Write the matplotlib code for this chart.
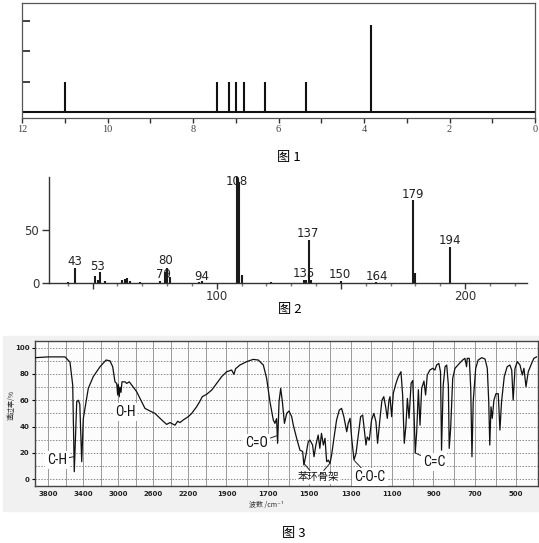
import numpy as np
import matplotlib
matplotlib.use('Agg')
import matplotlib.pyplot as plt
from matplotlib.ticker import MultipleLocator, FixedLocator, FixedFormatter
from matplotlib.patches import Rectangle
from matplotlib import font_manager as fm

# ---------------- data ----------------
# Figure 1: 1H NMR
nmr_shift = [11.0, 7.43, 7.16, 7.00, 6.81, 6.31, 5.35, 3.83]
nmr_height = [1.0, 1.0, 1.0, 1.0, 1.0, 0.97, 0.97, 2.85]
nmr_xticks = [12, 10, 8, 6, 4, 2, 0]

# Figure 2: mass spectrum
ms_mz = [40, 43, 51, 52, 53, 55, 62, 63, 64, 65, 69, 77, 79, 80, 81, 93, 94,
         108, 109, 110, 122, 135, 136, 137, 138, 150, 164, 179, 180, 194]
ms_int = [1, 14.4, 7, 3, 10.3, 2, 3, 4, 5, 2, 1, 2, 10.6, 14.4, 6, 1, 1.5,
          100, 95.3, 7.5, 1, 3, 3, 40.7, 3, 1.5, 1, 78, 9.7, 33.9]
ms_label_mz = [43, 53, 79, 80, 94, 108, 135, 137, 150, 164, 179, 194]
ms_xticks = [50, 100, 150, 200]
ms_xticklabels = ['', '100', '', '200']
ms_yticks = [0, 50]

# Figure 3: IR spectrum
ir_wn = [3952, 3800, 3700, 3609, 3552, 3521, 3503, 3475, 3457, 3440, 3418, 3400,
         3343, 3286, 3209, 3140, 3095, 3064, 3038, 3018, 3007, 3000, 2989, 2981,
         2969, 2958, 2923, 2904, 2874, 2847, 2790, 2752, 2695, 2638, 2581, 2504,
         2447, 2409, 2352, 2321, 2295, 2257, 2200, 2162, 2105, 2067, 2040, 1996,
         1971, 1947, 1923, 1899, 1875, 1864, 1856, 1835, 1802, 1771, 1746, 1722,
         1706, 1690, 1674, 1666, 1658, 1653, 1646, 1638, 1630, 1620, 1609, 1598,
         1585, 1577, 1561, 1545, 1532, 1526, 1516, 1505, 1497, 1484, 1477, 1468,
         1457, 1449, 1441, 1432, 1424, 1416, 1408, 1400, 1392, 1381, 1368, 1355,
         1344, 1333, 1319, 1312, 1303, 1295, 1284, 1274, 1263, 1252, 1242, 1231,
         1226, 1220, 1210, 1199, 1188, 1178, 1170, 1159, 1149, 1140, 1131, 1123,
         1115, 1110, 1102, 1094, 1081, 1070, 1057, 1049, 1041, 1033, 1026, 1018,
         1008, 1000, 994, 988, 981, 973, 965, 957, 946, 938, 930, 917, 904, 893,
         885, 874, 866, 861, 853, 844, 836, 828, 824, 817, 807, 796, 775, 759,
         748, 740, 737, 727, 720, 714, 708, 696, 684, 667, 651, 640, 633, 628,
         622, 616, 608, 598, 587, 579, 571, 558, 544, 531, 522, 515, 506, 495,
         482, 471, 463, 453, 442, 426, 415, 402]
ir_t = [92.4, 93, 93, 93, 89, 71.6, 5.6, 59, 60, 57, 13.2, 46,
        69, 78, 85.5, 90.6, 90, 85.5, 74, 72.8, 64, 72, 62.7, 70,
        66, 74, 74, 72.8, 74, 71.6, 66.5, 61.4, 53.8, 51.8, 50, 45,
        41.6, 43, 41, 44, 43, 45, 47.5, 49.9, 55, 59.2, 62.7, 64.5,
        67.8, 72.9, 78, 81.7, 83, 79.7, 84, 86.8, 89.4, 91.1, 90.6, 86.8,
        76.7, 58.9, 45, 42.4, 46, 27.2, 59, 69, 59, 42.4, 50, 51.8,
        47.5, 41, 31, 22, 21, 10.7, 18.5, 28.4, 29.7, 25.9, 17, 25.9,
        33.5, 23.4, 34.8, 25.9, 31, 13.2, 14.4, 11.9, 18.3, 31, 45, 52.5,
        53.8, 47.5, 36, 42.4, 46.2, 31, 14.5, 19.6, 33.5, 47.5, 48.7, 33.5,
        25.9, 32, 29.7, 45, 50, 43.7, 27.2, 45, 60, 62.7, 55, 46.2,
        60, 62.7, 47.5, 65.3, 72.9, 78, 81.7, 64, 27.2, 41, 61.4, 46.2,
        72.9, 75, 50, 20, 36, 68, 41, 69, 74.6, 64, 79.2, 83, 84.3, 83,
        86.8, 88, 81.7, 22, 71.3, 85.5, 86.8, 71.3, 23.3, 38.6, 76.7, 84.3, 88, 90.6,
        91.9, 85.5, 91.9, 91.9, 69, 17, 59, 84.3, 90.6, 92.4, 91.4, 84.3, 59, 25.9,
        55, 46.2, 60, 65, 65, 37.3, 59, 78, 85.5, 86.8, 83, 60, 84.3, 89.4,
        86.8, 79.2, 84.3, 70.3, 81.7, 88, 91.9, 93]
ir_xticks = [3800, 3400, 3000, 2600, 2200, 1900, 1700, 1500, 1300, 1100, 900, 700, 500]
ir_yticks = [0, 20, 40, 60, 80, 100]
ir_groups = ['C-H', 'O-H', 'C=O', '苯环骨架', 'C-O-C', 'C=C']

# ---------------- layout helpers ----------------
W, H = 539, 543
fig = plt.figure(figsize=(W / 100, H / 100), dpi=100)
fig.patch.set_facecolor('white')


def box(l, t, r, b):
    return [l / W, 1 - b / H, (r - l) / W, (b - t) / H]


CJK = ['Noto Sans CJK SC', 'DejaVu Sans']
names = {f.name for f in fm.fontManager.ttflist}
cond = next((n for n in ['Liberation Sans Narrow', 'Roboto Condensed', 'DejaVu Sans'] if n in names),
            'DejaVu Sans')

# ---------------- Figure 1: NMR ----------------
ax1 = fig.add_axes(box(22, 3, 535, 118))
unit = 30.5
ax1.set_xlim(12, 0)
ax1.set_ylim(-6 / unit, (118 - 3 - 6) / unit)
ax1.hlines(0, 12, 0, color='#111', lw=1.5)
ax1.vlines(nmr_shift, 0, nmr_height, color='#111', lw=1.5)
ax1.xaxis.set_major_locator(FixedLocator(nmr_xticks))
ax1.xaxis.set_minor_locator(MultipleLocator(1))
ax1.tick_params(axis='x', which='both', direction='out', length=3.5, width=1,
                color='#333', pad=1.5, labelsize=7.5, labelcolor='#444')
for lab in ax1.get_xticklabels():
    lab.set_family('Liberation Serif')
ax1.set_yticks([1, 2, 3])
ax1.tick_params(axis='y', direction='in', length=5.5, width=1.2, color='#222', labelleft=False)
for s in ax1.spines.values():
    s.set_color('#555')
    s.set_linewidth(0.9)
fig.text(289 / W, 1 - 157 / H, '图 1', ha='center', va='center', fontsize=9.5, family=CJK)

# ---------------- Figure 2: MS ----------------
ax2 = fig.add_axes(box(49, 176.7, 527, 283))
ax2.set_xlim(100 + (49 - 216.7) / 2.483, 100 + (527 - 216.7) / 2.483)
ax2.set_ylim(0, 100)
ax2.vlines(ms_mz, 0, ms_int, color='#1a1a1a', lw=1.5)
for s in ['top', 'right']:
    ax2.spines[s].set_visible(False)
for s in ['left', 'bottom']:
    ax2.spines[s].set_color('#333')
    ax2.spines[s].set_linewidth(1)
ax2.xaxis.set_major_locator(FixedLocator(ms_xticks))
ax2.xaxis.set_major_formatter(FixedFormatter(ms_xticklabels))
ax2.xaxis.set_minor_locator(MultipleLocator(10))
ax2.tick_params(axis='x', which='major', length=4, width=1, color='#333', pad=1,
                labelsize=8.5, labelcolor='#333')
ax2.tick_params(axis='x', which='minor', length=2, width=1, color='#777')
ax2.set_yticks(ms_yticks)
ax2.tick_params(axis='y', length=5, width=1, color='#333', pad=2, labelsize=8.5, labelcolor='#333')

label_offsets = {43: (0, 6), 53: (-2, 6), 79: (-1, -3), 80: (-1, 7), 94: (0, 5),
                 108: (0, -5), 135: (0, 6), 137: (-1, 6.5), 150: (-1, 7), 164: (1, 5),
                 179: (0, 6), 194: (0, 6)}
for m in ms_label_mz:
    h = ms_int[ms_mz.index(m)]
    dx, dy = label_offsets[m]
    ax2.annotate(str(m), xy=(m, h), xytext=(dx, dy), textcoords='offset pixels',
                 ha='center', va='center', fontsize=8.5, color='#222')
fig.text(290 / W, 1 - 310 / H, '图 2', ha='center', va='center', fontsize=9.5, family=CJK)

# ---------------- Figure 3: IR ----------------
fig.add_artist(Rectangle((3 / W, 1 - 511 / H), (539 - 3) / W, (511 - 336) / H,
                         transform=fig.transFigure, color='#f1f1f1', zorder=0))
ax3 = fig.add_axes(box(35, 341, 538, 486))
ax3.set_facecolor('#fcfcfc')
k = 2.366


def fwd(w):
    w = np.asarray(w, dtype=float)
    return np.where(w >= 2000, w, 2000 - (2000 - w) * k)


def inv(u):
    u = np.asarray(u, dtype=float)
    return np.where(u >= 2000, u, 2000 - (2000 - u) / k)


ax3.set_xscale('function', functions=(fwd, inv))
ax3.set_xlim(3952, 395)
ax3.set_ylim(-5.3, 105.1)
ax3.plot(ir_wn, ir_t, color='#111', lw=0.9, zorder=3)

grid_pos = list(range(3800, 1999, -200)) + list(range(1900, 499, -100))
ax3.xaxis.set_major_locator(FixedLocator(ir_xticks))
ax3.xaxis.set_minor_locator(FixedLocator(grid_pos))
ax3.set_yticks(ir_yticks)
ax3.yaxis.set_minor_locator(MultipleLocator(10))
ax3.grid(which='both', axis='x', color='#9a9a9a', lw=0.7)
ax3.grid(which='both', axis='y', color='#8a8a8a', lw=0.7, ls=(0, (1.5, 1.5)))
ax3.set_axisbelow(True)
ax3.tick_params(axis='x', which='both', length=0, pad=3.5, labelsize=5, labelcolor='#222')
ax3.tick_params(axis='y', which='major', length=2, width=0.8, pad=2, labelsize=5, labelcolor='#222')
ax3.tick_params(axis='y', which='minor', length=0)
for lab in ax3.get_xticklabels() + ax3.get_yticklabels():
    lab.set_fontweight('bold')
for s in ax3.spines.values():
    s.set_color('#444')
    s.set_linewidth(1)

fig.text(12 / W, 1 - 405 / H, '透过率/%', rotation=90, ha='center', va='center',
         fontsize=5, family=CJK, color='#333')
fig.text(266 / W, 1 - 505 / H, '波数 /cm⁻¹', ha='center', va='center',
         fontsize=5, family=CJK, color='#333')

ann_style = dict(arrowstyle='-', lw=0.7, color='#222', shrinkA=0, shrinkB=0)
bbox = dict(boxstyle='square,pad=0.15', fc='white', ec='none')
label_font = dict(fontsize=10, family=cond, fontstretch='condensed', color='#111')
# C-H
ax3.annotate(ir_groups[0], xy=(3510, 17), xytext=(3700, 14.5), ha='center', va='center',
             arrowprops=ann_style, bbox=bbox, **label_font)
# O-H
ax3.text(2923, 51, ir_groups[1], ha='center', va='center', bbox=bbox, **label_font)
# C=O
ax3.annotate(ir_groups[2], xy=(1657, 33), xytext=(1753, 27.4), ha='center', va='center',
             arrowprops=ann_style, bbox=bbox, **label_font)
# aromatic skeleton
t4 = ax3.text(1458, 1.5, ir_groups[3], ha='center', va='center', fontsize=7.5,
              family=CJK, color='#111', bbox=bbox, zorder=5)
ax3.annotate('', xy=(1526, 12), xytext=(1497, 6.5), arrowprops=ann_style)
ax3.annotate('', xy=(1400, 12), xytext=(1430, 6.5), arrowprops=ann_style)
# C-O-C
ax3.annotate(ir_groups[4], xy=(1282, 14), xytext=(1207, 1.5), ha='center', va='center',
             arrowprops=ann_style, bbox=bbox, **label_font)
# C=C
ax3.annotate(ir_groups[5], xy=(989, 20), xytext=(898, 13), ha='center', va='center',
             arrowprops=ann_style, bbox=bbox, **label_font)

fig.text(294 / W, 1 - 533 / H, '图 3', ha='center', va='center', fontsize=9.5, family=CJK)

fig.savefig('out.png', dpi=100)
